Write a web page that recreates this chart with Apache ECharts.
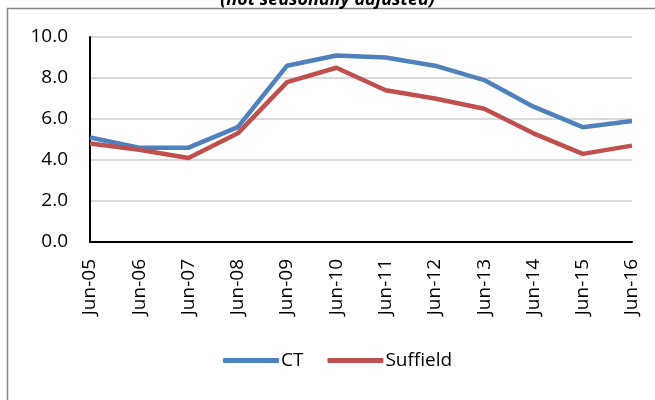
<!DOCTYPE html>
<html>
<head>
<meta charset="utf-8">
<script src="https://cdn.jsdelivr.net/npm/echarts@6/dist/echarts.min.js"></script>
<style>
  html, body { margin: 0; padding: 0; background: #fff; }
  #chart { width: 655px; height: 400px; }
</style>
</head>
<body>
<div id="chart"></div>
<script>
const categories = ['Jun-05', 'Jun-06', 'Jun-07', 'Jun-08', 'Jun-09', 'Jun-10', 'Jun-11', 'Jun-12', 'Jun-13', 'Jun-14', 'Jun-15', 'Jun-16']
const ctValues = [5.1, 4.6, 4.6, 5.6, 8.6, 9.1, 9.0, 8.6, 7.9, 6.6, 5.6, 5.9]
const suffieldValues = [4.8, 4.5, 4.1, 5.3, 7.8, 8.5, 7.4, 7.0, 6.5, 5.3, 4.3, 4.7]

const font = 'Open Sans, Liberation Sans, sans-serif'

const chart = echarts.init(document.getElementById('chart'), null, { renderer: 'canvas' })

chart.setOption({
  animation: false,
  backgroundColor: '#fff',
  title: {
    text: '(not seasonally adjusted)',
    left: 'center',
    top: -14,
    textStyle: { fontFamily: font, fontSize: 18, fontWeight: 'bold', fontStyle: 'italic', color: '#000' }
  },
  graphic: [{
    type: 'rect',
    shape: { x: 7.5, y: 8.5, width: 660, height: 400 },
    style: { fill: 'none', stroke: '#868686', lineWidth: 1.5 },
    silent: true
  }],
  legend: {
    bottom: 25,
    left: 218,
    itemWidth: 56,
    itemHeight: 5,
    itemGap: 24,
    icon: 'roundRect',
    textStyle: { fontFamily: font, fontSize: 19, color: '#000', padding: [0, 0, 0, -3] },
    data: ['CT', 'Suffield']
  },
  grid: { left: 90, right: 23, top: 37, bottom: 158, containLabel: false },
  xAxis: {
    type: 'category',
    boundaryGap: false,
    data: categories,
    axisLine: { lineStyle: { color: '#000', width: 2 } },
    axisTick: { show: false },
    axisLabel: { rotate: 90, fontFamily: font, fontSize: 19, color: '#000', margin: 17, interval: 0 }
  },
  yAxis: {
    type: 'value',
    min: 0,
    max: 10,
    interval: 2,
    axisLine: { show: true, lineStyle: { color: '#000', width: 2 } },
    axisTick: { show: false },
    splitLine: { lineStyle: { color: '#d9d9d9', width: 2 } },
    axisLabel: { fontFamily: font, fontSize: 19, color: '#000', margin: 22, formatter: v => v.toFixed(1) }
  },
  series: [
    {
      name: 'CT',
      type: 'line',
      data: ctValues,
      symbol: 'none',
      lineStyle: { width: 4.5, color: '#4F81BD' },
      itemStyle: { color: '#4F81BD' }
    },
    {
      name: 'Suffield',
      type: 'line',
      data: suffieldValues,
      symbol: 'none',
      lineStyle: { width: 4.5, color: '#C0504D' },
      itemStyle: { color: '#C0504D' }
    }
  ]
})
</script>
</body>
</html>
